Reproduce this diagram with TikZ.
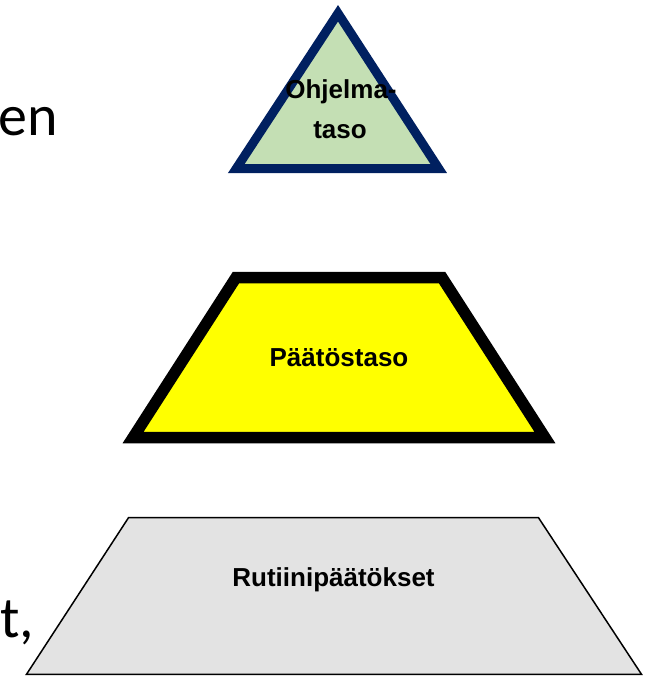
\documentclass[tikz,border=0pt]{standalone}
\usepackage{fontspec}
\setmainfont{Liberation Sans}
\newfontfamily\slidefont{Carlito}
\usepackage{tikz}
\definecolor{tasogreen}{RGB}{196,223,180}
\definecolor{tasonavy}{RGB}{0,32,96}
\definecolor{tasoyellow}{RGB}{255,255,0}
\definecolor{rutiinigray}{RGB}{227,227,227}
\tikzset{
  levellabel/.style={font=\bfseries\fontsize{26}{31}\selectfont, inner sep=0pt, anchor=base},
  slidetext/.style={font=\slidefont\fontsize{58}{70}\selectfont, inner sep=0pt}
}

\begin{document}
\begin{tikzpicture}[x=1pt, y=-1pt]
  \useasboundingbox (0,0) rectangle (656,677);

  % Cut-off slide text
  \node[slidetext, anchor=base east] (enword) at (58.5,135) {en};
  \node[slidetext, anchor=base west] (tword) at (0,637) {t,};

  % Program level
  \filldraw[fill=tasogreen, draw=tasonavy, line width=9pt]
    (338,13.3) -- (236.3,168.5) -- (438.7,168.5) -- cycle;
  \node[levellabel] (ohjelma) at (341,98) {Ohjelma-};
  \node[levellabel] (taso) at (340,138) {taso};

  % Decision level
  \filldraw[fill=tasoyellow, draw=black, line width=11.5pt]
    (236,277.5) -- (442,277.5) -- (544.9,437.5) -- (133.1,437.5) -- cycle;
  \node[levellabel] (paatos) at (339,366) {Päätöstaso};

  % Routine decisions
  \filldraw[fill=rutiinigray, draw=black, line width=1.5pt]
    (128.5,517.7) -- (538.5,517.7) -- (641.5,674.3) -- (26.5,674.3) -- cycle;
  \node[levellabel] (rutiini) at (333.5,586) {Rutiinipäätökset};
\end{tikzpicture}
\end{document}
